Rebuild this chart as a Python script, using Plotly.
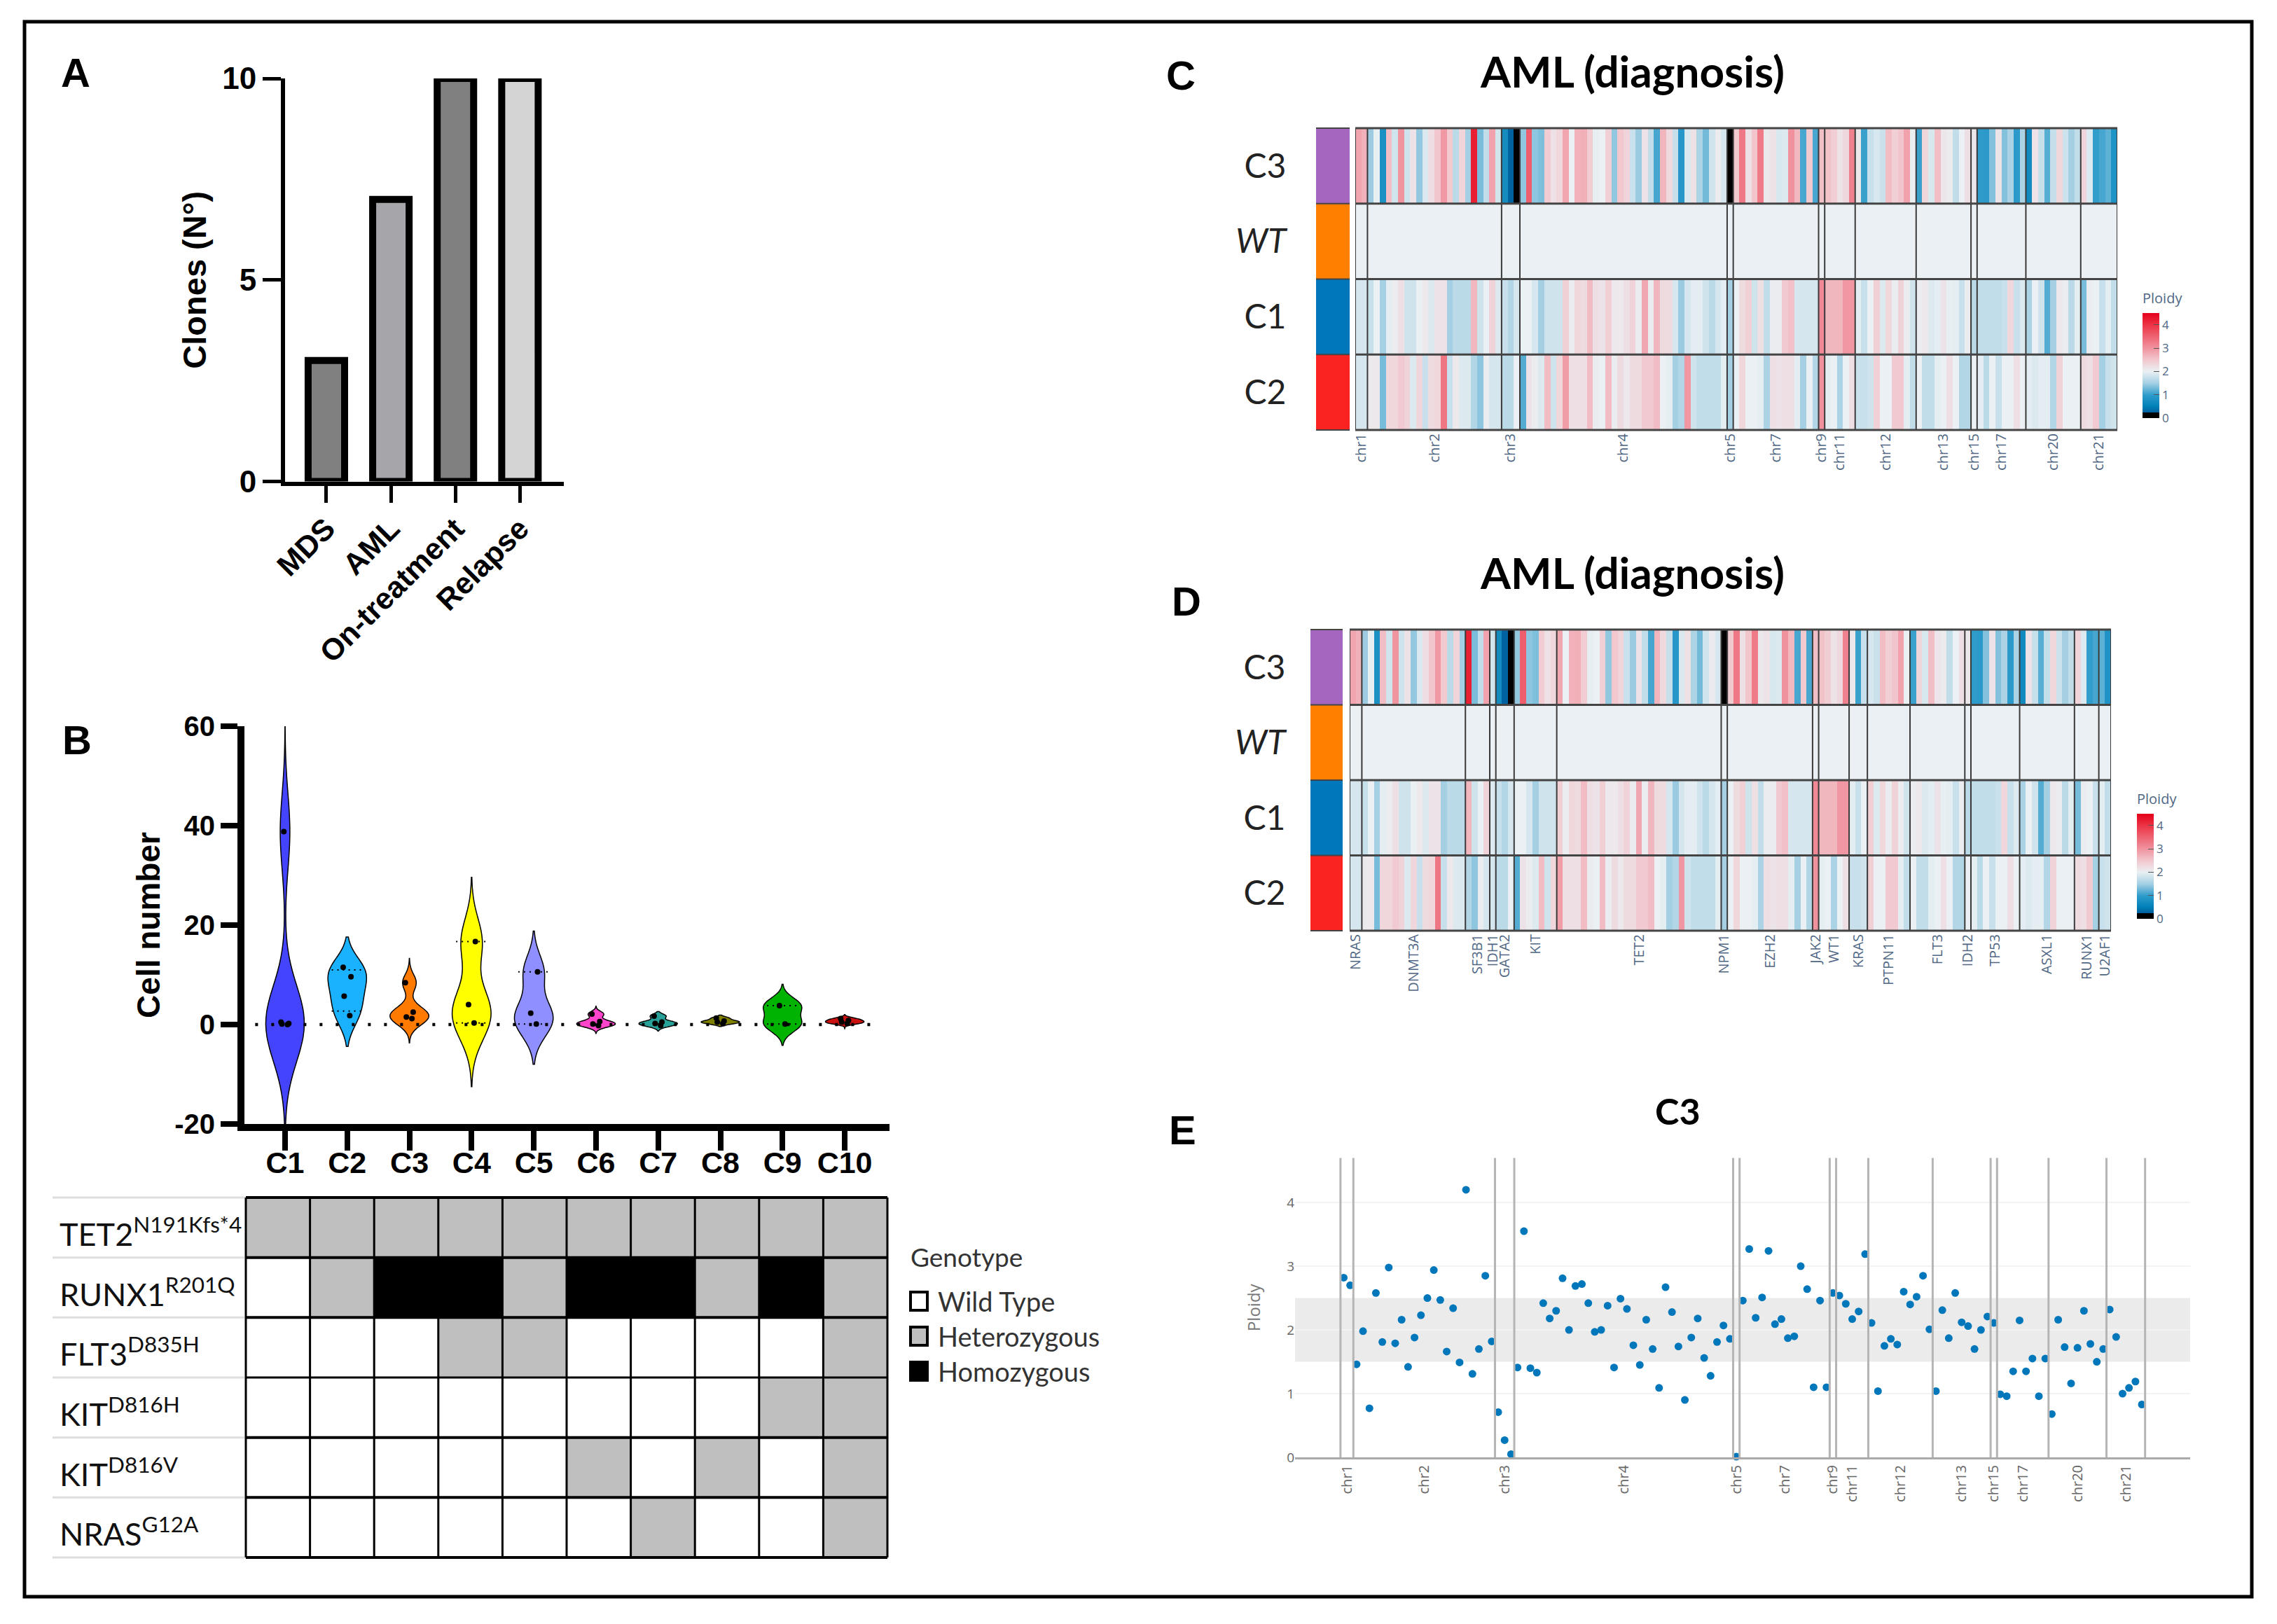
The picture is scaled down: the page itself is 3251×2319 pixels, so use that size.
import plotly.graph_objects as go

W, H = 3251, 2319

# ---------- data ----------
stages = ["MDS", "AML", "On-treatment", "Relapse"]
clones = [3, 7, 10, 10]
stage_colors = ["#808080", "#a6a6aa", "#808080", "#d4d4d4"]

clone_names = ["C1", "C2", "C3", "C4", "C5", "C6", "C7", "C8", "C9", "C10"]
clone_cells = [
    [0.0, 0.1, 0.5, 0.2, 38.8],
    [11.5, 9.6, 5.7, 1.8],
    [8.4, 2.5, 1.5, 1.2],
    [16.7, 4.0, 0.3],
    [10.6, 2.3, 0.1],
    [2.1, 0.6, -0.2, 0.1],
    [1.7, 0.5, -0.2, 0.2],
    [1.3, 0.7, 0.5, 0.2],
    [3.8, 0.1],
    [1.2, 0.8, 0.5, 0.2],
]
clone_bw = [7.6, 2.9, 1.7, 4.7, 3.4, 0.55, 0.45, 0.3, 1.6, 0.3]
clone_span = [[-20, 60], [-4.4, 17.6], [-3.7, 13.3], [-12.5, 29.6], [-8, 18.8],
              [-1.8, 3.7], [-1.3, 2.6], [-0.4, 1.9], [-4.2, 8.1], [-0.85, 2.0]]
clone_colors = ["#4444ff", "#1ab2ff", "#ff7a00", "#ffff00", "#8f8fff",
                "#ff44cc", "#2aa198", "#7f7f00", "#00b300", "#cc1111"]
quartile_clone = [1, 1, 3, 3, 4, 4, 8, 8]
quartile_value = [11.0, 2.7, 16.7, 0.3, 10.6, 0.1, 3.8, 0.1]
cell_ticks = [-20, 0, 20, 40, 60]
cell_tick_labels = ["-20", "0", "20", "40", "60"]

mutations = ["TET2<sup>N191Kfs*4</sup>", "RUNX1<sup>R201Q</sup>", "FLT3<sup>D835H</sup>",
             "KIT<sup>D816H</sup>", "KIT<sup>D816V</sup>", "NRAS<sup>G12A</sup>"]
genotype = [
    [1, 1, 1, 1, 1, 1, 1, 1, 1, 1],
    [0, 1, 2, 2, 1, 2, 2, 1, 2, 1],
    [0, 0, 0, 1, 1, 0, 0, 0, 0, 1],
    [0, 0, 0, 0, 0, 0, 0, 0, 1, 1],
    [0, 0, 0, 0, 0, 1, 0, 1, 0, 1],
    [0, 0, 0, 0, 0, 0, 1, 0, 0, 1],
]
genotype_labels = ["Wild Type", "Heterozygous", "Homozygous"]
genotype_colors = ["#ffffff", "#bfbfbf", "#000000"]

chroms = ["chr1", "chr2", "chr3", "chr4", "chr5", "chr7", "chr9", "chr11", "chr12",
          "chr13", "chr15", "chr17", "chr20", "chr21"]
chrom_bins = [2, 22, 3, 34, 1, 14, 1, 5, 10, 9, 1, 8, 9, 6]
genes = ["NRAS", "DNMT3A", "SF3B1", "IDH1", "GATA2", "KIT", "TET2", "NPM1", "EZH2", "JAK2",
         "WT1", "KRAS", "PTPN11", "FLT3", "IDH2", "TP53", "ASXL1", "RUNX1", "U2AF1"]
gene_bins = [2, 17, 4, 1, 3, 7, 27, 1, 14, 1, 5, 3, 7, 9, 1, 8, 9, 4, 2]

ploidy_c3 = [
    2.82, 2.70, 1.46, 1.98, 0.77, 2.58, 1.81, 2.98, 1.79, 2.16, 1.42, 1.88, 2.23, 2.50, 2.94,
    2.47, 1.66, 2.34, 1.49, 4.20, 1.31, 1.70, 2.85, 1.82, 0.71, 0.27, 0.05, 1.41, 3.55, 1.40,
    1.33, 2.42, 2.18, 2.30, 2.81, 2.00, 2.69, 2.72, 2.42, 1.97, 2.00, 2.38, 1.41, 2.49, 2.33,
    1.76, 1.45, 2.16, 1.70, 1.09, 2.67, 2.28, 1.74, 0.90, 1.88, 2.18, 1.56, 1.28, 1.81, 2.07,
    1.86, 0.01, 2.46, 3.27, 2.19, 2.51, 3.24, 2.09, 2.17, 1.87, 1.90, 3.00, 2.64, 1.10, 2.46,
    1.10, 2.58, 2.54, 2.41, 2.17, 2.29, 3.19, 2.11, 1.04, 1.75, 1.86, 1.77, 2.60, 2.40, 2.52,
    2.85, 2.01, 1.04, 2.31, 1.87, 2.58, 2.12, 2.06, 1.70, 2.00, 2.21, 2.11, 0.99, 0.96, 1.35,
    2.15, 1.35, 1.55, 0.96, 1.55, 0.68, 2.16, 1.73, 1.16, 1.72, 2.30, 1.78, 1.50, 1.70, 2.32,
    1.89, 1.00, 1.09, 1.19, 0.83]
ploidy_wt = [2.0] * 125
ploidy_c1 = [
    1.85, 1.85, 1.75, 2.0, 1.5, 1.95, 2.05, 2.2, 1.8, 1.8, 2.0, 2.1, 1.9, 2.15, 2.15,
    1.5, 1.65, 1.65, 1.65, 2.65, 1.8, 2.0, 2.35, 1.9, 1.75, 1.6, 1.85, 2.0, 2.0, 1.85,
    1.5, 1.8, 1.8, 1.8, 2.4, 2.05, 2.3, 2.25, 2.6, 2.2, 2.15, 2.4,
    2.1, 2.1, 2.2, 2.35, 2.05, 2.8, 2.05, 2.65, 2.25, 2.25, 1.85, 1.45, 1.85, 1.95, 1.95,
    1.8, 1.65, 1.85, 1.95, 1.5, 2.0, 2.25, 2.4, 1.8, 2.2, 1.7, 2.05, 2.05, 2.45, 2.55,
    1.85, 1.85, 1.85, 1.85, 3.1, 2.65, 2.65, 2.65, 2.95, 2.95, 1.95, 1.75,
    2.0, 2.4, 1.9, 2.3, 2.05, 2.35, 2.05, 1.8, 2.05, 2.1, 1.9, 1.95, 2.15, 1.98, 1.95,
    1.75, 2.05, 1.65, 1.7, 1.7, 1.7, 1.7, 1.75, 2.3, 1.75, 1.9, 1.55, 2.0, 1.8, 1.15,
    1.5, 2.1, 2.05, 1.65, 1.95, 1.3, 2.05, 2.0, 1.75, 1.95, 1.7]
ploidy_c2 = [
    1.85, 1.85, 2.1, 2.1, 1.3, 2.3, 2.3, 2.45, 2.35, 1.9, 2.3, 1.75, 2.25, 2.3, 3.3,
    1.75, 2.1, 1.9, 1.9, 1.6, 1.4, 2.05, 1.85, 1.85, 1.65, 1.65, 2.0, 1.15, 2.15, 2.05,
    1.9, 2.6, 1.8, 2.3, 2.9, 2.2, 2.2, 2.2, 2.6, 2.05, 2.0, 2.6,
    2.05, 2.25, 2.1, 2.25, 2.25, 2.45, 2.45, 2.6, 2.0, 1.95, 1.5, 1.6, 2.95, 1.8, 1.7,
    1.7, 1.7, 1.7, 1.95, 1.5, 2.0, 2.3, 2.0, 2.0, 1.95, 1.55, 2.2, 2.15, 2.2, 2.2,
    1.95, 1.5, 2.0, 1.6, 3.0, 1.95, 2.0, 1.55, 2.0, 2.2, 1.75, 1.75,
    1.8, 2.4, 2.0, 2.0, 2.45, 2.45, 1.95, 1.7, 2.0, 1.7, 1.7, 1.95, 2.0, 2.2, 2.0,
    1.6, 1.6, 2.0, 1.95, 1.65, 2.0, 1.75, 2.0, 2.0, 2.2, 2.0, 1.95, 1.9, 1.95, 1.95,
    1.6, 2.35, 2.0, 2.0, 2.0, 2.25, 2.2, 2.45, 1.5, 1.75, 1.8]
heat_rows = ["C3", "<i>WT</i>", "C1", "C2"]
row_colors = ["#a566c0", "#ff8000", "#0077bb", "#fb2222"]

# ---------- helpers ----------
def dx(a, b):
    return [a / W, b / W]

def dy(a, b):
    return [1 - b / H, 1 - a / H]

def cum(counts):
    out, s = [-0.5], -0.5
    for c in counts:
        s += c
        out.append(s)
    return out

def mids(counts):
    e = cum(counts)
    return [(e[i] + e[i + 1]) / 2 for i in range(len(counts))]

PLOIDY_SCALE = [
    [0, "#000000"], [0.05, "#000000"], [0.055, "#005f9e"], [0.11, "#0080b8"],
    [0.22, "#2e9ccb"], [0.33, "#a3cfe3"], [0.444, "#eaf0f3"], [0.556, "#f2c6cd"],
    [0.667, "#f0929e"], [0.889, "#ec3345"], [1, "#e50019"]]

SANS = "Liberation Sans"
CAL = "Lato"
SLATE = "#506784"

fig = go.Figure()
shapes, annos = [], []

def text(x, y, s, size, family=CAL, color="#000000", bold=False, anchor="center"):
    annos.append(dict(xref="paper", yref="paper", x=x / W, y=1 - y / H, text=f"<b>{s}</b>" if bold else s,
                      showarrow=False, xanchor=anchor, yanchor="middle",
                      font=dict(size=size, family=family, color=color), borderpad=0))

layout = dict(width=W, height=H, margin=dict(l=0, r=0, t=0, b=0, pad=0, autoexpand=False), autosize=False,
              paper_bgcolor="white", plot_bgcolor="rgba(0,0,0,0)", showlegend=False,
              violinmode="overlay", bargap=0.43)

# ---------- A: bars ----------
fig.add_trace(go.Bar(x=list(range(4)), y=clones, width=0.565, cliponaxis=False,
                     marker=dict(color=stage_colors, line=dict(color="black", width=10)),
                     xaxis="x", yaxis="y"))
layout["xaxis"] = dict(domain=dx(407, 805), range=[-0.64, 3.68], anchor="y", tickvals=list(range(4)), automargin=False,
                       ticktext=stages, tickangle=-45, ticks="outside", ticklen=24, tickwidth=5,
                       tickcolor="black", showline=True, linewidth=6, linecolor="black", showgrid=False,
                       zeroline=False, ticklabelstandoff=-5,
                       tickfont=dict(size=43, family=SANS, color="black", weight="bold"))
layout["yaxis"] = dict(domain=dy(112, 687.5), range=[0, 10], anchor="x", tickvals=[0, 5, 10], ticks="outside", automargin=False,
                       ticklen=26, tickwidth=5, tickcolor="black", showline=True, linewidth=6,
                       linecolor="black", showgrid=False, zeroline=False,
                       tickfont=dict(size=44, family=SANS, color="black", weight="bold"),
                       title=dict(text="Clones (N°)", standoff=10,
                                  font=dict(size=47, family=SANS, color="black", weight="bold")))

# ---------- B: violins ----------
for i, name in enumerate(clone_names):
    fig.add_trace(go.Violin(x=[i] * len(clone_cells[i]), y=clone_cells[i], name=name,
                            bandwidth=clone_bw[i], spanmode="manual", span=clone_span[i],
                            width=0.62, scalemode="width", fillcolor=clone_colors[i],
                            line=dict(color="black", width=1.5), points="all", pointpos=0, jitter=0.25,
                            marker=dict(color="black", size=8), box_visible=False, meanline_visible=False,
                            xaxis="x2", yaxis="y2"))
for c, v in zip(quartile_clone, quartile_value):
    fig.add_trace(go.Scatter(x=[c - 0.25, c + 0.25], y=[v, v], mode="lines",
                             line=dict(color="black", width=2, dash="2px 6px"), xaxis="x2", yaxis="y2"))
fig.add_trace(go.Scatter(x=[-0.48, 9.6], y=[0, 0], mode="lines",
                         line=dict(color="black", width=4.5, dash="4px 19px"), xaxis="x2", yaxis="y2"))
layout["xaxis2"] = dict(domain=dx(349, 1270), range=[-0.653, 9.72], anchor="y2", tickvals=list(range(10)), automargin=False,
                        ticktext=clone_names, ticks="outside", ticklen=28, tickwidth=8, tickcolor="black",
                        showline=True, linewidth=10, linecolor="black", showgrid=False, zeroline=False,
                        ticklabelstandoff=-20,
                        tickfont=dict(size=43, family=SANS, color="black", weight="bold"))
layout["yaxis2"] = dict(domain=dy(1037, 1605), range=[-20, 60], anchor="x2", tickvals=cell_ticks, ticktext=cell_tick_labels,
                        automargin=False,
                        ticks="outside", ticklen=24, tickwidth=8, tickcolor="black", showline=True, linewidth=10,
                        linecolor="black", showgrid=False, zeroline=False,
                        tickfont=dict(size=40, family=SANS, color="black", weight="bold"),
                        title=dict(text="Cell number", standoff=10,
                                   font=dict(size=46, family=SANS, color="black", weight="bold")))

# ---------- genotype table ----------
geno_scale = [[0, genotype_colors[0]], [0.33, genotype_colors[0]], [0.33, genotype_colors[1]],
              [0.66, genotype_colors[1]], [0.66, genotype_colors[2]], [1, genotype_colors[2]]]
fig.add_trace(go.Heatmap(z=genotype, x=clone_names, y=mutations, zmin=0, zmax=2, colorscale=geno_scale,
                         showscale=False, xaxis="x3", yaxis="y3"))
layout["xaxis3"] = dict(domain=dx(351, 1267), anchor="y3", visible=False, type="category", automargin=False)
layout["yaxis3"] = dict(domain=dy(1710, 2224), anchor="x3", visible=False, type="category", autorange="reversed", automargin=False)
n_m = len(mutations)
top_t, bot_t = 1710, 2224
for k in range(len(clone_names) + 1):
    shapes.append(dict(type="line", xref="x3 domain", yref="y3 domain", x0=k / 10, x1=k / 10, y0=0, y1=1,
                       line=dict(color="black", width=3)))
for k in range(n_m + 1):
    shapes.append(dict(type="line", xref="x3 domain", yref="y3 domain", x0=0, x1=1, y0=k / n_m, y1=k / n_m,
                       line=dict(color="black", width=3 if k in (3, ) else 4)))
    ypx = top_t + (bot_t - top_t) * k / n_m
    shapes.append(dict(type="line", xref="paper", yref="paper", x0=75 / W, x1=349 / W, y0=1 - ypx / H, y1=1 - ypx / H,
                       line=dict(color="#dedede", width=3)))
for k, m in enumerate(mutations):
    ypx = top_t + (bot_t - top_t) * (k + 0.5) / n_m
    text(84, ypx + 6, m, 45, color="#111111", anchor="left")
text(1299, 1795, "Genotype", 37, color="#333333", anchor="left")
for k, (lab, col, ypx) in enumerate(zip(genotype_labels, genotype_colors, [1858, 1908, 1958])):
    shapes.append(dict(type="rect", xref="paper", yref="paper", x0=1300 / W, x1=1324 / W, y0=1 - (ypx - 13) / H,
                       y1=1 - (ypx + 13) / H, fillcolor=col, line=dict(color="black", width=4)))
    text(1338, ypx, lab, 38, color="#333333", anchor="left")

# ---------- C / D heatmaps ----------
matrix = [ploidy_c3, ploidy_wt, ploidy_c1, ploidy_c2]
band_scale = []
for k, c in enumerate(row_colors):
    band_scale += [[k / 4, c], [(k + 1) / 4, c]]

def heat_panel(ax_ann, ax_heat, ann_x, heat_x, ytop, ybot, counts, labels, cb_x, cb_top, cb_bot, label_gap):
    a, b = ax_ann, ax_heat
    fig.add_trace(go.Heatmap(z=[[k + 0.5] for k in range(4)], y=heat_rows, x=["clone"], zmin=0, zmax=4,
                             colorscale=band_scale, showscale=False, xaxis=f"x{a}", yaxis=f"y{a}"))
    fig.add_trace(go.Heatmap(z=matrix, y=heat_rows, x=list(range(125)), zmin=0, zmax=4.5, colorscale=PLOIDY_SCALE,
                             colorbar=dict(title=dict(text="Ploidy", side="top", font=dict(size=20, color=SLATE)),
                                           x=cb_x / W, xanchor="left", xpad=0, y=1 - cb_bot / H, yanchor="bottom", ypad=0,
                                           len=(cb_bot - cb_top + 36) / H, lenmode="fraction", thickness=24,
                                           thicknessmode="pixels", outlinewidth=0, tickvals=[0, 1, 2, 3, 4],
                                           ticks="inside", ticklen=8, tickcolor="#555555",
                                           tickfont=dict(size=17, color=SLATE, family="Open Sans")),
                             xaxis=f"x{b}", yaxis=f"y{b}"))
    layout[f"xaxis{a}"] = dict(domain=dx(*ann_x), anchor=f"y{a}", visible=False, type="category", automargin=False)
    layout[f"yaxis{a}"] = dict(domain=dy(ytop, ybot), anchor=f"x{a}", type="category", autorange="reversed", automargin=False,
                               ticks="outside", ticklen=label_gap, tickwidth=0, tickcolor="rgba(0,0,0,0)", showline=False,
                               showgrid=False, zeroline=False, tickfont=dict(size=48, family=CAL, color="#222222"))
    layout[f"xaxis{b}"] = dict(domain=dx(*heat_x), anchor=f"y{b}", range=[-0.5, 124.5], tickvals=mids(counts), automargin=False,
                               ticktext=labels, tickangle=-90, ticks="", showgrid=False, zeroline=False,
                               tickfont=dict(size=20, family="Open Sans", color=SLATE))
    layout[f"yaxis{b}"] = dict(domain=dy(ytop, ybot), anchor=f"x{b}", type="category", autorange="reversed",
                               visible=False, automargin=False)
    for e in cum(counts):
        shapes.append(dict(type="line", xref=f"x{b}", yref=f"y{b} domain", x0=e, x1=e, y0=0, y1=1,
                           line=dict(color="#3a3a3a", width=2)))
    for k in range(5):
        shapes.append(dict(type="line", xref=f"x{b} domain", yref=f"y{b} domain", x0=0, x1=1, y0=k / 4, y1=k / 4,
                           line=dict(color="#444444", width=3)))
        shapes.append(dict(type="line", xref=f"x{a} domain", yref=f"y{a} domain", x0=0, x1=1, y0=k / 4, y1=k / 4,
                           line=dict(color="#444444", width=2)))

heat_panel(4, 5, (1879, 1927), (1935, 3023), 183, 614, chrom_bins, chroms, 3059, 451, 597, 32)
heat_panel(6, 7, (1871, 1917), (1927, 3014), 899, 1329, gene_bins, genes, 3051, 1166, 1312, 25)

# ---------- E: scatter ----------
fig.add_trace(go.Scatter(x=list(range(125)), y=ploidy_c3, mode="markers", marker=dict(color="#0077bb", size=11),
                         cliponaxis=False, xaxis="x8", yaxis="y8"))
layout["xaxis8"] = dict(domain=dx(1849, 3127), range=[-7.56, 131.5], anchor="y8", tickvals=mids(chrom_bins), automargin=False,
                        ticktext=chroms, tickangle=-90, ticks="", showgrid=False, zeroline=False, showline=True,
                        linecolor="#aaaaaa", linewidth=3, tickfont=dict(size=20, family="Open Sans", color="#666666"))
layout["yaxis8"] = dict(domain=dy(1653.4, 2081), range=[0, 4.7], anchor="x8", tickvals=[0, 1, 2, 3, 4], ticks="", automargin=False,
                        gridcolor="#f3f3f3", gridwidth=2, zeroline=False,
                        tickfont=dict(size=19, family="Open Sans", color="#666666"),
                        title=dict(text="Ploidy", standoff=30, font=dict(size=24, family="Open Sans", color="#777777")))
shapes.append(dict(type="rect", xref="x8 domain", yref="y8", x0=0, x1=1, y0=1.5, y1=2.5, fillcolor="#ebebeb",
                   line=dict(width=0), layer="below"))
for e in cum(chrom_bins):
    shapes.append(dict(type="line", xref="x8", yref="y8 domain", x0=e, x1=e, y0=0, y1=1,
                       line=dict(color="#b5b5b5", width=3)))

# ---------- titles, letters, frame ----------
text(2330, 101, "AML (diagnosis)", 62, bold=True)
text(2330, 817, "AML (diagnosis)", 62, bold=True)
text(2395, 1586, "C3", 52, bold=True)
for lab, x, y in [("A", 108, 104), ("B", 110, 1057), ("C", 1686, 108), ("D", 1694, 858), ("E", 1688, 1613)]:
    text(x, y, lab, 58, family=SANS, bold=True)
shapes.append(dict(type="rect", xref="paper", yref="paper", x0=35 / W, x1=3215 / W, y0=1 - 31 / H, y1=1 - 2280 / H,
                   line=dict(color="black", width=5)))

layout["shapes"] = shapes
layout["annotations"] = annos
fig.update_layout(**layout)
fig.write_html("out.html", config={"displayModeBar": False},
               post_script="document.body.style.margin='0';document.documentElement.style.overflow='hidden';")
